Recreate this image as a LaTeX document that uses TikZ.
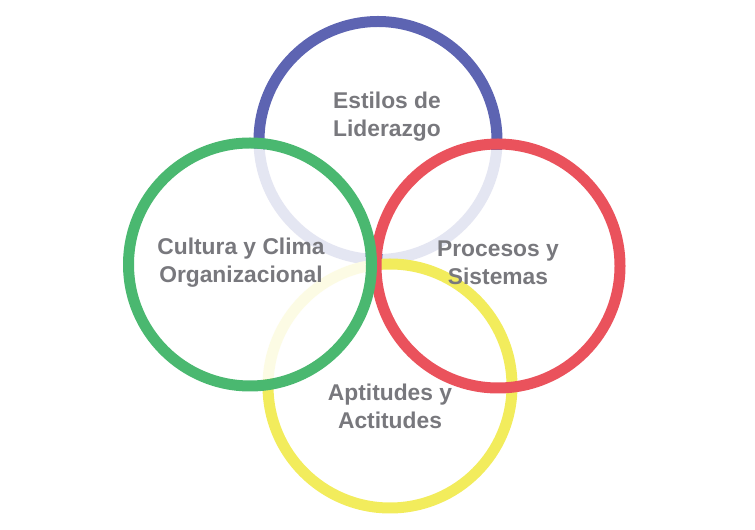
\documentclass[tikz,border=0pt]{standalone}
\usepackage{fontspec}
\setmainfont{Liberation Sans}
\usepackage{tikz}

\definecolor{anilloazul}{RGB}{93,100,178}
\definecolor{anilloverde}{RGB}{74,184,112}
\definecolor{anillorojo}{RGB}{234,82,92}
\definecolor{anilloamarillo}{RGB}{242,236,92}
\definecolor{textogris}{RGB}{120,120,125}

\begin{document}
\begin{tikzpicture}[x=1pt,y=1pt,
  ring/.style={line width=11pt},
  veil/.style={fill=white,fill opacity=0.84},
  tema/.style={font=\fontsize{22.8}{28}\selectfont\bfseries,text=textogris,align=center,inner sep=0pt}]
\useasboundingbox (0,0) rectangle (755,530);
% anillos de fondo
\draw[ring,anilloazul] (378,389.5) circle (119);
\fill[veil] (498,264) circle (116);
\draw[ring,anilloamarillo] (390,144) circle (122);
\fill[veil] (250,265.5) circle (116);
% anillos de frente
\draw[ring,anillorojo] (498,264) circle (122);
\draw[ring,anilloverde] (250,265.5) circle (121.5);
% textos
\node[tema] (liderazgo) at (387,413) {Estilos de\\Liderazgo};
\node[tema] (cultura) at (241,267) {Cultura y Clima\\Organizacional};
\node[tema] (procesos) at (498,267) {Procesos y\\Sistemas};
\node[tema] (aptitudes) at (390,124) {Aptitudes y\\Actitudes};
\end{tikzpicture}
\end{document}
